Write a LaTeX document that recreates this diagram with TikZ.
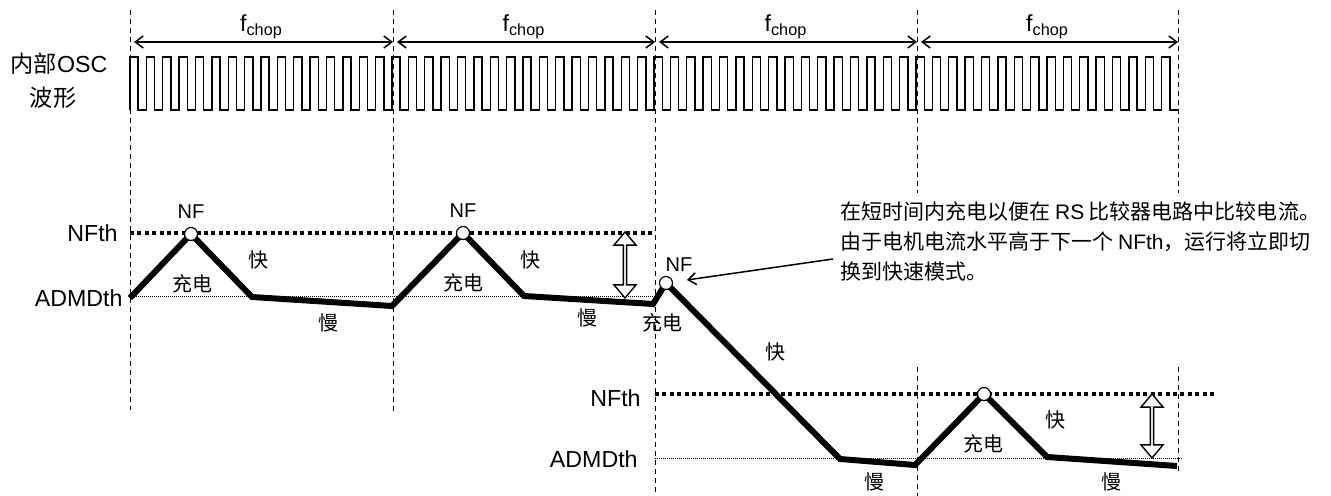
\documentclass[tikz,border=0pt]{standalone}
\usepackage{fontspec}
\setmainfont{Liberation Sans}
\newfontfamily\cjk{Noto Sans CJK SC}
\usetikzlibrary{arrows.meta,shapes.arrows,positioning,calc}

\begin{document}
\begin{tikzpicture}[
  x=0.5pt, y=-0.5pt,
  guide/.style={line width=0.5pt, dash pattern=on 2.5pt off 2pt},
  thr/.style={line width=1.65pt, dash pattern=on 2pt off 1.7pt},
  admline/.style={line width=0.5pt, dash pattern=on 0.5pt off 0.5pt},
  osc/.style={line width=0.7pt},
  wave/.style={line width=3pt},
  peak/.style={circle, draw, fill=white, line width=0.6pt, minimum size=6.5pt, inner sep=0pt},
  lbl/.style={font=\fontsize{11.6}{13}\selectfont, inner sep=1pt},
  nflbl/.style={font=\fontsize{10}{12}\selectfont, inner sep=1pt},
  zh/.style={font=\fontsize{10}{12}\cjk, inner sep=1pt},
  gap/.style={double arrow, draw, fill=white, line width=0.7pt, rotate=90, minimum width=11pt, double arrow head extend=2.1pt, double arrow tip angle=80, inner sep=0pt},
  chop/.style={{Straight Barb[length=4pt,width=6pt]}-{Straight Barb[length=4pt,width=6pt]}, line width=0.75pt}
]
\useasboundingbox (0,0) rectangle (1331,496);

% chopping period guides
\foreach \x/\ya/\yb in {130/10/410, 393/10/413, 655/10/496, 917/10/193, 1178/10/193}
  \draw[guide] (\x,\ya) -- (\x,\yb);
\draw[guide] (917,367) -- (917,496);
\draw[guide] (1178,367) -- (1178,472);

\foreach \x [count=\i from 0] in {130,393,655,917,1178}
  \coordinate (c\i) at (\x,42);
\foreach \i/\j in {0/1,1/2,2/3,3/4} {
  \draw[chop] ([xshift=2pt]c\i) -- (c\j);
  \node[lbl] (fc\i) at ($(c\i)!0.5!(c\j)+(0,-15)$) {f\textsubscript{chop}};
}

% internal OSC
\node[lbl] (osc) at (59,64) {{\cjk 内部}OSC};
\node[lbl] (osc2) at (53,98) {{\cjk 波形}};
\draw[osc] (130,110) \foreach \i in {0,...,63} {
  -- ({130+\i*16.375},57) -- ({138.19+\i*16.375},57)
  -- ({138.19+\i*16.375},110) -- ({146.375+\i*16.375},110) };

% thresholds
\draw[thr] (130,233) -- (655,233);
\draw[admline] (130,297) -- (655,297);
\draw[thr] (655,394) -- (1217,394);
\draw[admline] (655,458) -- (1182,458);

\node[lbl, anchor=east] (nfthA) at (120,233) {NFth};
\node[lbl, anchor=east] (admA) at (125,298) {ADMDth};
\node[lbl, anchor=east] (nfthB) at (643,398) {NFth};
\node[lbl, anchor=east] (admB) at (640,459) {ADMDth};

% motor current
\draw[wave] (130,298) -- (191,234) -- (252,297) -- (392,306) -- (463,233)
  -- (524,296) -- (653,304) -- (666,283) -- (840,459) -- (915,465)
  -- (984,394) -- (1047,457) -- (1177,466);

\node[peak] (nf1) at (191,234) {};
\node[peak] (nf2) at (463,233) {};
\node[peak] (nf3) at (666,283) {};
\node[peak] (nf4) at (984,394) {};
\node[nflbl, above=3pt of nf1] (nfl1) {NF};
\node[nflbl, above=3pt of nf2] (nfl2) {NF};
\node[nflbl] (nfl3) at (679,265) {NF};

\node[gap, minimum height=33pt] (gapA) at (625,265) {};
\node[gap, minimum height=32pt] (gapB) at (1152,426) {};

\node[zh] (chg1) at (192,284) {充电};
\node[zh] (chg2) at (463,283) {充电};
\node[zh] (chg3) at (662,323) {充电};
\node[zh] (chg4) at (983,444) {充电};
\node[zh] (fst1) at (258,260) {快};
\node[zh] (fst2) at (530,260) {快};
\node[zh] (fst3) at (775,352) {快};
\node[zh] (fst4) at (1055,420) {快};
\node[zh] (slw1) at (328,323) {慢};
\node[zh] (slw2) at (587,318) {慢};
\node[zh] (slw3) at (874,482) {慢};
\node[zh] (slw4) at (1111,482) {慢};

% note
\node[zh, anchor=west, align=left, font=\fontsize{10.5}{15}\cjk] (note) at (838,242)
  {在短时间内充电以便在 {\rmfamily RS} 比较器电路中比较电流。\\
   由于电机电流水平高于下一个 {\rmfamily NFth}，运行将立即切\\
   换到快速模式。};
\draw[-{Straight Barb[length=4pt,width=6pt]}, line width=0.75pt, shorten >=7pt]
  ([shift={(-5,17)}]note.west) -- (nf3);

\end{tikzpicture}
\end{document}
